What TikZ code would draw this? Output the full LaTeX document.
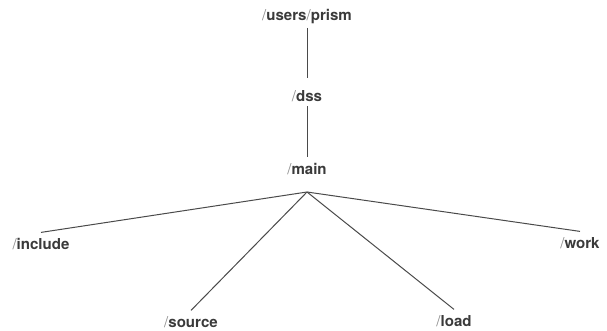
\documentclass[tikz,border=0pt]{standalone}
\usepackage{fontspec}
\setmainfont{TeX Gyre Heros}
\usepackage{tikz}
\usetikzlibrary{positioning}

\definecolor{inkgray}{HTML}{3A3A3A}
\definecolor{slashgray}{HTML}{8C8C8C}
\definecolor{edgegray}{HTML}{4A4A4A}
\newcommand{\dirsep}{{\mdseries\color{slashgray}/}}

\begin{document}
\begin{tikzpicture}[
    x=0.75pt, y=-0.75pt,
    dir/.style={anchor=base, inner sep=4.5pt, text height=8.5pt, text depth=2.5pt,
        font=\fontsize{11.3}{13}\selectfont\bfseries, text=inkgray},
    edge/.style={draw=edgegray, line width=0.75pt},
]
\useasboundingbox (0,0) rectangle (607,331);

\node[dir] (users) at (307, 21) {\dirsep users\dirsep prism};
\node[dir] (dss) at (307, 102) {\dirsep dss};
\node[dir] (main) at (307, 175) {\dirsep main};

\coordinate (hub) at (307, 192);

\node[dir] (include) at (41, 250) {\dirsep include};
\node[dir] (work) at (580, 249) {\dirsep work};
\node[dir] (source) at (191, 328) {\dirsep source};
\node[dir] (load) at (454, 327) {\dirsep load};

\draw[edge, shorten <=-2pt, shorten >=5pt] (users.south) -- (dss.north);
\draw[edge, shorten <=-4pt] (dss.south) -- (main.north);
\draw[edge] (hub) -- (include.north);
\draw[edge] (hub) -- (work.north);
\draw[edge] (hub) -- (source.north);
\draw[edge] (hub) -- (load.north);

\end{tikzpicture}
\end{document}
